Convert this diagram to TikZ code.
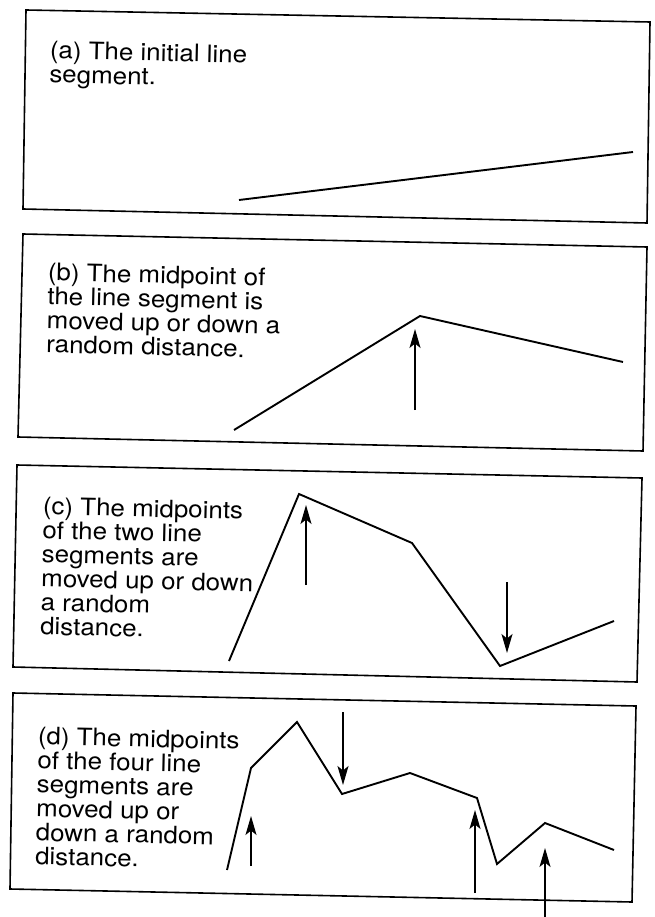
\documentclass[tikz,border=0pt]{standalone}
\usepackage{fontspec}
\setmainfont{TeX Gyre Heros}[FakeStretch=1.08]
\usetikzlibrary{arrows.meta}
\newcommand{\capfont}{\fontsize{24}{24}\selectfont\lineskiplimit=-30pt\relax}
\begin{document}
\begin{tikzpicture}[x=1pt,y=-1pt,
  frame/.style={line width=1.6pt, line join=miter},
  curve/.style={line width=1.9pt, line join=miter},
  movearrow/.style={line width=1.4pt, -{Stealth[length=19pt,width=11pt,inset=4.5pt]}},
  caption/.style={anchor=north west, inner sep=0pt, align=left, rotate=-1.3,
    font=\capfont}]
\useasboundingbox (0,0) rectangle (654,917);
\fill[white] (0,0) rectangle (654,917);

% ---------- panel (a)
\coordinate (aTL) at (26,10);
\coordinate (aTR) at (650,22);
\coordinate (aBR) at (647,223);
\coordinate (aBL) at (23,209);
\draw[frame] (aTL) -- (aTR) -- (aBR) -- (aBL) -- cycle;
\node[caption] (ta) at (50,41) {(a) The initial line\\segment.};
\coordinate (a1) at (239,200);
\coordinate (a2) at (633,152);
\draw[curve] (a1) -- (a2);

% ---------- panel (b)
\coordinate (bTL) at (23,234);
\coordinate (bTR) at (647,247);
\coordinate (bBR) at (643,451);
\coordinate (bBL) at (18,437);
\draw[frame] (bTL) -- (bTR) -- (bBR) -- (bBL) -- cycle;
\node[caption] (tb) at (48,263) {(b) The midpoint of\\the line segment is\\moved up or down a\\random distance.};
\coordinate (b1) at (234,430);
\coordinate (b2) at (420,316);
\coordinate (b3) at (623,362);
\draw[curve] (b1) -- (b2) -- (b3);
\coordinate (bu0) at (415,410);
\coordinate (bu1) at (415,329);
\draw[movearrow] (bu0) -- (bu1);

% ---------- panel (c)
\coordinate (cTL) at (17,465);
\coordinate (cTR) at (642,478);
\coordinate (cBR) at (637,682);
\coordinate (cBL) at (13,667);
\draw[frame] (cTL) -- (cTR) -- (cBR) -- (cBL) -- cycle;
\node[caption] (tc) at (43,497) {(c) The midpoints\\of the two line\\segments are\\moved up or down\\a random\\distance.};
\coordinate (c1) at (229,661);
\coordinate (c2) at (299,494);
\coordinate (c3) at (412,543);
\coordinate (c4) at (500,666);
\coordinate (c5) at (614,621);
\draw[curve] (c1) -- (c2) -- (c3) -- (c4) -- (c5);
\coordinate (cu0) at (306,585);
\coordinate (cu1) at (306,505);
\draw[movearrow] (cu0) -- (cu1);
\coordinate (cd0) at (507,582);
\coordinate (cd1) at (507,653);
\draw[movearrow] (cd0) -- (cd1);

% ---------- panel (d)
\coordinate (dTL) at (13,693);
\coordinate (dTR) at (636,706);
\coordinate (dBR) at (632,902);
\coordinate (dBL) at (10,889);
\draw[frame] (dTL) -- (dTR) -- (dBR) -- (dBL) -- cycle;
\node[caption] (td) at (38,727) {(d) The midpoints\\of the four line\\segments are\\moved up or\\down a random\\distance.};
\coordinate (d1) at (227,870);
\coordinate (d2) at (251,768);
\coordinate (d3) at (297,722);
\coordinate (d4) at (342,794);
\coordinate (d5) at (410,773);
\coordinate (d6) at (477,798);
\coordinate (d7) at (497,864);
\coordinate (d8) at (545,823);
\coordinate (d9) at (614,850);
\draw[curve] (d1) -- (d2) -- (d3) -- (d4) -- (d5) -- (d6) -- (d7) -- (d8) -- (d9);
\coordinate (du0) at (251,866);
\coordinate (du1) at (251,816);
\draw[movearrow] (du0) -- (du1);
\coordinate (dd0) at (343,712);
\coordinate (dd1) at (343,785);
\draw[movearrow] (dd0) -- (dd1);
\coordinate (de0) at (475,893);
\coordinate (de1) at (475,810);
\draw[movearrow] (de0) -- (de1);
\coordinate (df0) at (545,917);
\coordinate (df1) at (545,848);
\draw[movearrow] (df0) -- (df1);
\end{tikzpicture}
\end{document}
